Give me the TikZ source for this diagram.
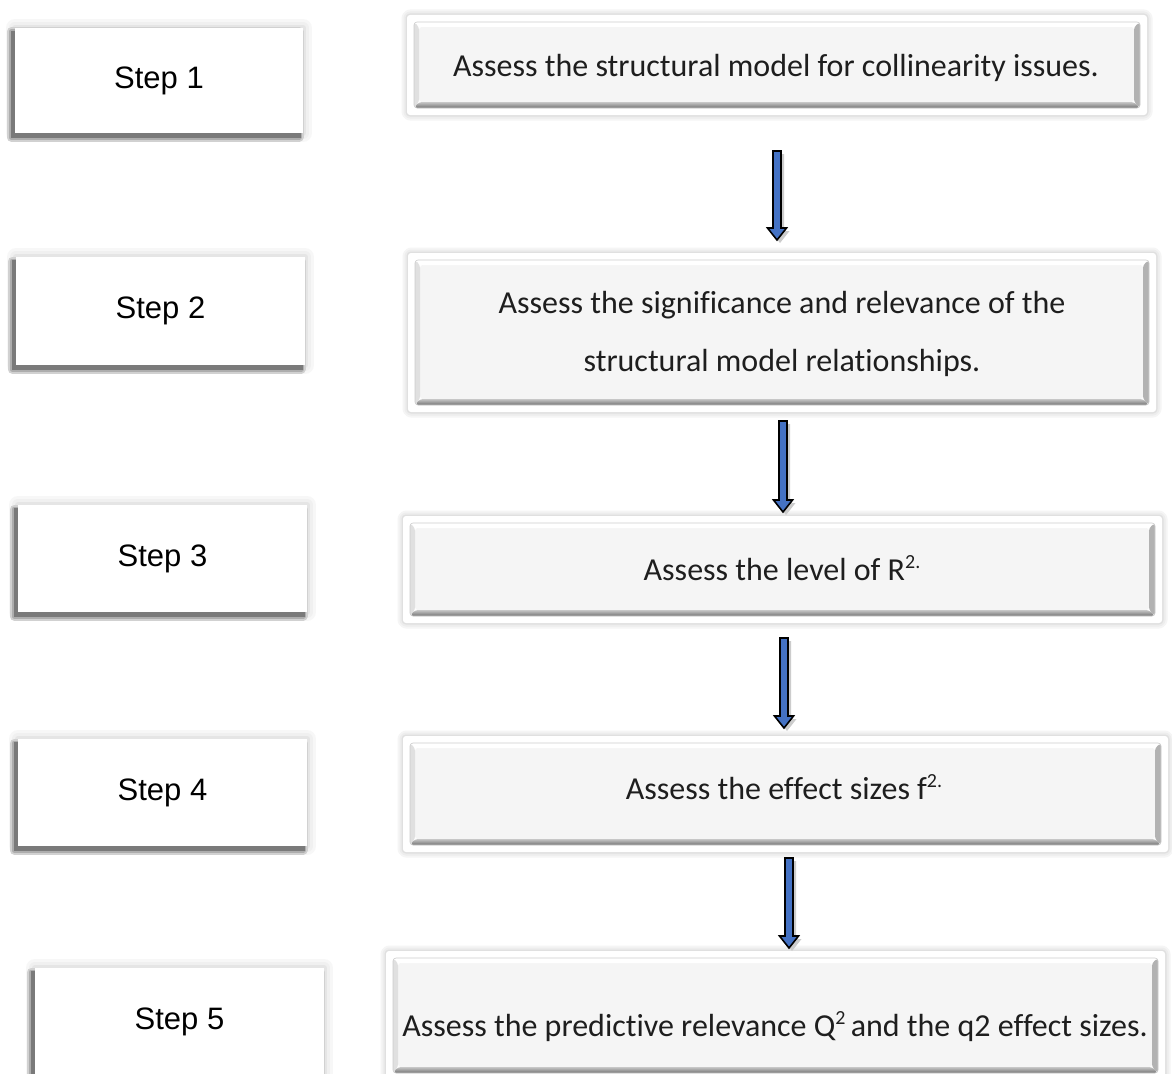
\documentclass[tikz,border=0pt]{standalone}
\usepackage{fontspec}
\setmainfont{Carlito}[Ligatures={NoCommon}]
\newfontfamily\arialfont{Liberation Sans}
\usetikzlibrary{calc}

\definecolor{arrowblue}{RGB}{68,114,196}
\definecolor{inktext}{RGB}{30,30,30}

% small raised figure for exponents such as R^2
\newcommand\supfig[1]{\raisebox{12pt}{\fontsize{20}{20}\selectfont #1}}

\tikzset{
  softline/.style={line join=round},
  % left-hand "Step n" boxes with a soft shadow falling to the lower left
  stepbox/.style={rectangle, fill=white, inner sep=0pt,
    font=\arialfont\fontsize{31}{37}\selectfont,
    preaction={softline, draw=black!3, line width=18pt},
    preaction={softline, draw=black!6, line width=12pt},
    preaction={softline, draw=black!10, line width=6pt},
    preaction={softline, fill=black!18, draw=black!18, line width=9pt,
               transform canvas={xshift=-4pt, yshift=-4pt}},
    preaction={softline, fill=black!32, draw=black!32, line width=5pt,
               transform canvas={xshift=-4pt, yshift=-4pt}},
    preaction={fill=black!52, draw=black!52, line width=2pt,
               transform canvas={xshift=-3pt, yshift=-4pt}}},
  % right-hand bevelled boxes inside a white frame
  stagebox/.style={rectangle, rounded corners=3pt, fill=white, inner sep=0pt,
    preaction={softline, draw=black!4, line width=11pt},
    preaction={softline, draw=black!7, line width=7pt},
    preaction={softline, draw=black!12, line width=3pt},
    path picture={
      \coordinate (bNW) at ($(path picture bounding box.north west)+(7pt,-7pt)$);
      \coordinate (bSE) at ($(path picture bounding box.south east)+(-7pt,7pt)$);
      \coordinate (bNE) at (bSE|-bNW);
      \coordinate (bSW) at (bNW|-bSE);
      \coordinate (fNW) at ($(bNW)+(5pt,-5pt)$);
      \coordinate (fSE) at ($(bSE)+(-6pt,6pt)$);
      \coordinate (fNE) at (fSE|-fNW);
      \coordinate (fSW) at (fNW|-fSE);
      \fill[black!4] (fNW) rectangle (fSE);
      \fill[white] (bNW) -- (bNE) -- (fNE) -- (fNW) -- cycle;
      \fill[black!12] (bNW) -- (fNW) -- (fSW) -- (bSW) -- cycle;
      \shade[top color=black!22, bottom color=black!55]
        (bSW) -- (fSW) -- (fSE) -- (bSE) -- cycle;
      \fill[black!30] (bNE) -- (bSE) -- (fSE) -- (fNE) -- cycle;
      \draw[black!20, line width=0.6pt] (bNW) rectangle (bSE);
    }},
  stagetext/.style={inner sep=0pt, align=center, text=inktext,
    font=\fontsize{32}{58}\selectfont},
  arrowbody/.style={draw=black, line width=1.6pt, fill=arrowblue, line join=miter},
  arrowshade/.style={fill=black!20}
}

% thin block arrow pointing down from #1 to #2
\newcommand\blockarrow[2]{%
  \fill[arrowshade] let \p1=(#1), \p2=(#2) in
    (\x1-1pt,\y1-3pt) -- (\x1+7pt,\y1-3pt) -- (\x1+7pt,\y2+9pt) --
    (\x1+12.5pt,\y2+9pt) -- (\x1+3pt,\y2-3pt) -- (\x1-6.5pt,\y2+9pt) --
    (\x1-1pt,\y2+9pt) -- cycle;
  \draw[arrowbody] let \p1=(#1), \p2=(#2) in
    (\x1-4pt,\y1) -- (\x1+4pt,\y1) -- (\x1+4pt,\y2+12pt) --
    (\x1+9.5pt,\y2+12pt) -- (\x1,\y2) -- (\x1-9.5pt,\y2+12pt) --
    (\x1-4pt,\y2+12pt) -- cycle;
}

\begin{document}
\begin{tikzpicture}[x=1pt, y=-1pt]
  \useasboundingbox (0,0) rectangle (1172,1073);
  \fill[white] (0,0) rectangle (1172,1073);
  \clip (0,0) rectangle (1172,1073);

  % step labels
  \node[stepbox, minimum width=288pt, minimum height=105pt] (s1) at (159,80.5) {Step 1};
  \node[stepbox, minimum width=289pt, minimum height=108pt] (s2) at (160.5,311) {Step 2};
  \node[stepbox, minimum width=289pt, minimum height=107pt] (s3) at (162.5,558.5) {Step 3};
  \node[stepbox, minimum width=289pt, minimum height=107pt] (s4) at (162.5,792.5) {Step 4};
  \node[stepbox, minimum width=289pt, minimum height=108pt] (s5) at (179.5,1022) {Step 5};

  % stage boxes
  \node[stagebox, minimum width=740pt, minimum height=100pt] (r1) at (777,65) {};
  \node[stagebox, minimum width=748pt, minimum height=159pt] (r2) at (782,332.5) {};
  \node[stagebox, minimum width=759pt, minimum height=107pt] (r3) at (782.5,569.5) {};
  \node[stagebox, minimum width=765pt, minimum height=116pt] (r4) at (785.5,794) {};
  \node[stagebox, minimum width=779pt, minimum height=129pt] (r5) at (775.5,1015.5) {};

  % stage descriptions
  \node[stagetext] (t1) at (776,68) {Assess the structural model for collinearity issues.};
  \node[stagetext] (t2) at (782,334) {Assess the significance and relevance of the\\structural model relationships.};
  \node[stagetext] (t3) at (782,568) {Assess the level of R\supfig{2.}};
  \node[stagetext] (t4) at (784,787) {Assess the effect sizes f\supfig{2.}};
  \node[stagetext] (t5) at (775,1027) {Assess the predictive relevance Q\supfig{2}\,and the q2 effect sizes.};

  % arrows between stages
  \coordinate (a1top) at (777,151);  \coordinate (a1tip) at (777,240);
  \coordinate (a2top) at (783,421);  \coordinate (a2tip) at (783,512);
  \coordinate (a3top) at (784,638);  \coordinate (a3tip) at (784,728);
  \coordinate (a4top) at (789,858);  \coordinate (a4tip) at (789,948);
  \blockarrow{a1top}{a1tip}
  \blockarrow{a2top}{a2tip}
  \blockarrow{a3top}{a3tip}
  \blockarrow{a4top}{a4tip}
\end{tikzpicture}
\end{document}
